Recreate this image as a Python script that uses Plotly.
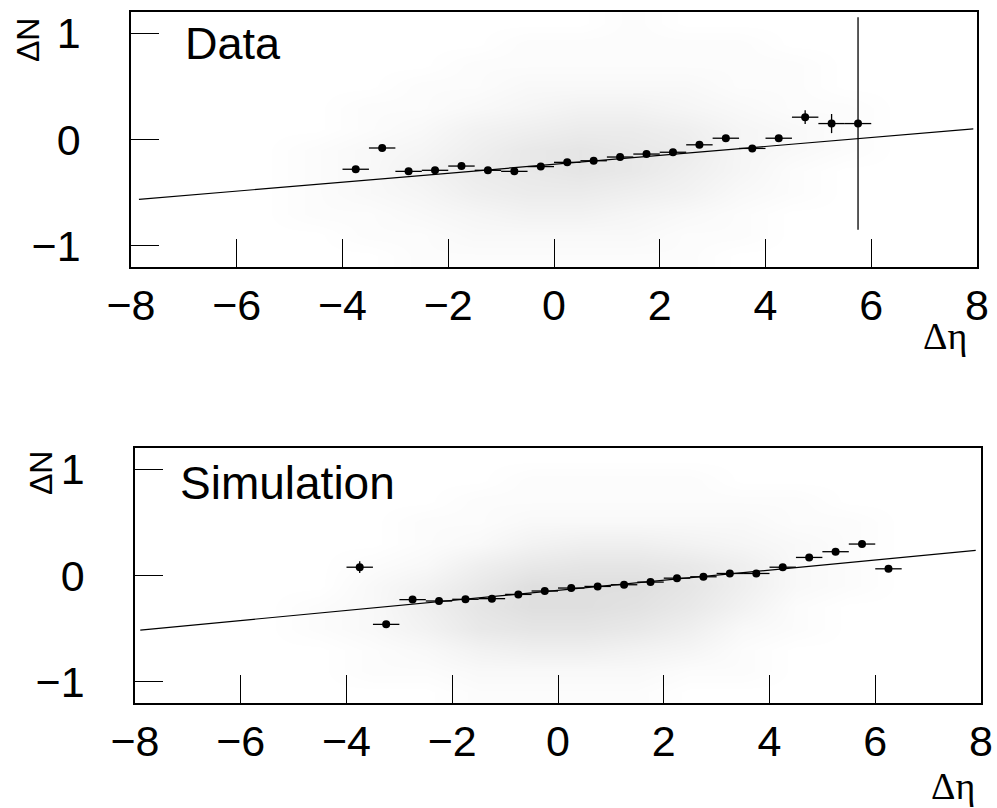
import plotly.graph_objects as go

# ---------------- data ----------------
bin_x_top = [-3.75, -3.25, -2.75, -2.25, -1.75, -1.25, -0.75, -0.25, 0.25, 0.75,
             1.25, 1.75, 2.25, 2.75, 3.25, 3.75, 4.25, 4.75, 5.25, 5.75]
mean_top = [-0.28, -0.08, -0.30, -0.29, -0.25, -0.29, -0.30, -0.255, -0.215, -0.20,
            -0.165, -0.137, -0.12, -0.05, 0.012, -0.084, 0.012, 0.21, 0.15, 0.15]
err_top = [0.03, 0.02, 0.015, 0.012, 0.012, 0.01, 0.01, 0.01, 0.01, 0.01,
           0.01, 0.01, 0.012, 0.015, 0.018, 0.02, 0.025, 0.065, 0.09, 1.0]

bin_x_bot = [-3.75, -3.25, -2.75, -2.25, -1.75, -1.25, -0.75, -0.25, 0.25, 0.75,
             1.25, 1.75, 2.25, 2.75, 3.25, 3.75, 4.25, 4.75, 5.25, 5.75, 6.25]
mean_bot = [0.078, -0.46, -0.227, -0.24, -0.224, -0.218, -0.178, -0.146, -0.118, -0.103,
            -0.087, -0.062, -0.025, -0.012, 0.019, 0.019, 0.078, 0.17, 0.224, 0.296, 0.063]
err_bot = [0.055, 0.02, 0.012, 0.01, 0.008, 0.008, 0.008, 0.008, 0.008, 0.008,
           0.008, 0.008, 0.008, 0.008, 0.01, 0.012, 0.015, 0.018, 0.02, 0.025, 0.02]
half_bin = 0.25

fit_x_top = [-7.85, 7.93]
fit_y_top = [-0.564, 0.10]
fit_x_bot = [-7.9, 7.9]
fit_y_bot = [-0.514, 0.236]

# estimated relative density of the grey scatter cloud
cloud_x = [-7.5, -6.5, -5.5, -4.5, -3.5, -2.5, -1.5, -0.5, 0.5, 1.5, 2.5, 3.5, 4.5, 5.5, 6.5, 7.5]
cloud_y = [-1.1, -0.9, -0.7, -0.5, -0.3, -0.1, 0.1, 0.3, 0.5, 0.7, 0.9, 1.1]
cloud_top = [
    [0, 0, 0, 0, 0, 1, 1, 1, 1, 1, 1, 0, 0, 0, 0, 0],
    [0, 0, 0, 0, 1, 1, 2, 2, 2, 2, 1, 1, 0, 0, 0, 0],
    [0, 0, 0, 1, 1, 2, 3, 4, 4, 3, 2, 1, 0, 0, 0, 0],
    [0, 0, 0, 1, 2, 3, 5, 6, 6, 5, 4, 2, 1, 0, 0, 0],
    [0, 0, 0, 1, 2, 4, 6, 7, 8, 7, 5, 3, 1, 0, 0, 0],
    [0, 0, 0, 1, 2, 3, 5, 7, 8, 7, 6, 3, 2, 1, 0, 0],
    [0, 0, 0, 0, 1, 2, 4, 5, 6, 6, 5, 3, 2, 1, 0, 0],
    [0, 0, 0, 0, 1, 1, 2, 3, 4, 4, 3, 2, 1, 1, 0, 0],
    [0, 0, 0, 0, 0, 1, 1, 2, 2, 2, 2, 1, 1, 0, 0, 0],
    [0, 0, 0, 0, 0, 0, 1, 1, 1, 1, 1, 1, 1, 0, 0, 0],
    [0, 0, 0, 0, 0, 0, 0, 1, 1, 1, 1, 1, 0, 0, 0, 0],
    [0, 0, 0, 0, 0, 0, 0, 0, 0, 1, 0, 0, 0, 0, 0, 0],
]
cloud_bot = [
    [0, 0, 0, 0, 0, 0, 1, 1, 1, 1, 0, 0, 0, 0, 0, 0],
    [0, 0, 0, 0, 1, 1, 2, 2, 2, 2, 1, 1, 0, 0, 0, 0],
    [0, 0, 0, 0, 1, 2, 4, 5, 5, 4, 3, 1, 0, 0, 0, 0],
    [0, 0, 0, 1, 2, 4, 7, 8, 8, 7, 5, 2, 1, 0, 0, 0],
    [0, 0, 0, 1, 2, 5, 8, 10, 10, 9, 7, 4, 1, 0, 0, 0],
    [0, 0, 0, 0, 2, 4, 7, 10, 10, 10, 8, 5, 2, 1, 0, 0],
    [0, 0, 0, 0, 1, 2, 5, 7, 8, 8, 7, 5, 2, 1, 0, 0],
    [0, 0, 0, 0, 0, 1, 2, 4, 5, 5, 4, 3, 2, 1, 0, 0],
    [0, 0, 0, 0, 0, 1, 1, 2, 2, 2, 2, 2, 1, 1, 0, 0],
    [0, 0, 0, 0, 0, 0, 1, 1, 1, 1, 1, 1, 1, 0, 0, 0],
    [0, 0, 0, 0, 0, 0, 0, 1, 1, 1, 1, 0, 0, 0, 0, 0],
    [0, 0, 0, 0, 0, 0, 0, 0, 0, 0, 0, 0, 0, 0, 0, 0],
]

x_ticks = [-8, -6, -4, -2, 0, 2, 4, 6, 8]
y_ticks = [-1, 0, 1]
panel_labels = ["Data", "Simulation"]

# ---------------- figure ----------------
W, H = 997, 808
fig = go.Figure()

cs = [[0, "#ffffff"], [1, "#dfdfdf"]]
for grid, xa, ya in [(cloud_top, "x", "y"), (cloud_bot, "x2", "y2")]:
    fig.add_trace(go.Heatmap(x=cloud_x, y=cloud_y, z=grid, zmin=0, zmax=10,
                             zsmooth="best", colorscale=cs, showscale=False,
                             hoverinfo="skip", xaxis=xa, yaxis=ya))

for fx, fy, xa, ya in [(fit_x_top, fit_y_top, "x", "y"), (fit_x_bot, fit_y_bot, "x2", "y2")]:
    fig.add_trace(go.Scatter(x=fx, y=fy, mode="lines",
                             line=dict(color="black", width=1.2),
                             xaxis=xa, yaxis=ya, showlegend=False))

for bx, my, ey, xa, ya in [(bin_x_top, mean_top, err_top, "x", "y"),
                           (bin_x_bot, mean_bot, err_bot, "x2", "y2")]:
    fig.add_trace(go.Scatter(
        x=bx, y=my, mode="markers",
        marker=dict(color="black", size=8),
        error_x=dict(type="constant", value=half_bin, thickness=1.3, width=0, color="black"),
        error_y=dict(type="data", array=ey, thickness=1.3, width=0, color="black"),
        xaxis=xa, yaxis=ya, showlegend=False))

tickfont = dict(family="Liberation Sans, Arial, sans-serif", size=43, color="black")

def xax(domain, anchor):
    return dict(domain=domain, anchor=anchor, range=[-8, 8], tickvals=x_ticks,
                ticks="inside", ticklen=28, tickwidth=1, tickcolor="black",
                showline=True, mirror=True, linecolor="black", linewidth=1.5,
                showgrid=False, zeroline=False, tickfont=tickfont,
                ticklabelstandoff=0, automargin=False)

def yax(domain, anchor):
    return dict(domain=domain, anchor=anchor, range=[-1.2, 1.2], tickvals=y_ticks,
                ticks="inside", ticklen=28, tickwidth=1, tickcolor="black",
                showline=True, mirror=True, linecolor="black", linewidth=1.5,
                showgrid=False, zeroline=False, tickfont=tickfont,
                ticklabelstandoff=40, automargin=False)

fig.update_layout(
    width=W, height=H, margin=dict(l=0, r=0, t=0, b=0, autoexpand=False),
    paper_bgcolor="white", plot_bgcolor="white", showlegend=False,
    xaxis=xax([131 / W, 977 / W], "y"),
    yaxis=yax([1 - 267 / H, 1 - 12 / H], "x"),
    xaxis2=xax([135 / W, 981 / W], "y2"),
    yaxis2=yax([1 - 703 / H, 1 - 448 / H], "x2"),
)

ann = []
# panel labels
ann.append(dict(text=panel_labels[0], x=183 / W, y=1 - 43 / H, xref="paper", yref="paper",
                xanchor="left", yanchor="middle", showarrow=False,
                font=dict(family="Liberation Sans, Arial", size=45, color="black")))
ann.append(dict(text=panel_labels[1], x=178 / W, y=1 - 483 / H, xref="paper", yref="paper",
                xanchor="left", yanchor="middle", showarrow=False,
                font=dict(family="Liberation Sans, Arial", size=46, color="black")))
# axis titles
for yc, xc in [(40, 28), (473, 41)]:
    ann.append(dict(text="ΔN", x=xc / W, y=1 - yc / H, xref="paper", yref="paper",
                    xanchor="center", yanchor="middle", textangle=-90, showarrow=False,
                    font=dict(family="Liberation Sans, Arial", size=32, color="black")))
for yc, xc in [(336, 945), (786, 953)]:
    ann.append(dict(text="Δη", x=xc / W, y=1 - yc / H, xref="paper", yref="paper",
                    xanchor="center", yanchor="middle", showarrow=False,
                    font=dict(family="Liberation Serif, Times New Roman, serif", size=38, color="black")))
fig.update_layout(annotations=ann)

fig.write_html("out.html", config={"displayModeBar": False},
               post_script="document.body.style.margin='0';document.body.style.padding='0';")
